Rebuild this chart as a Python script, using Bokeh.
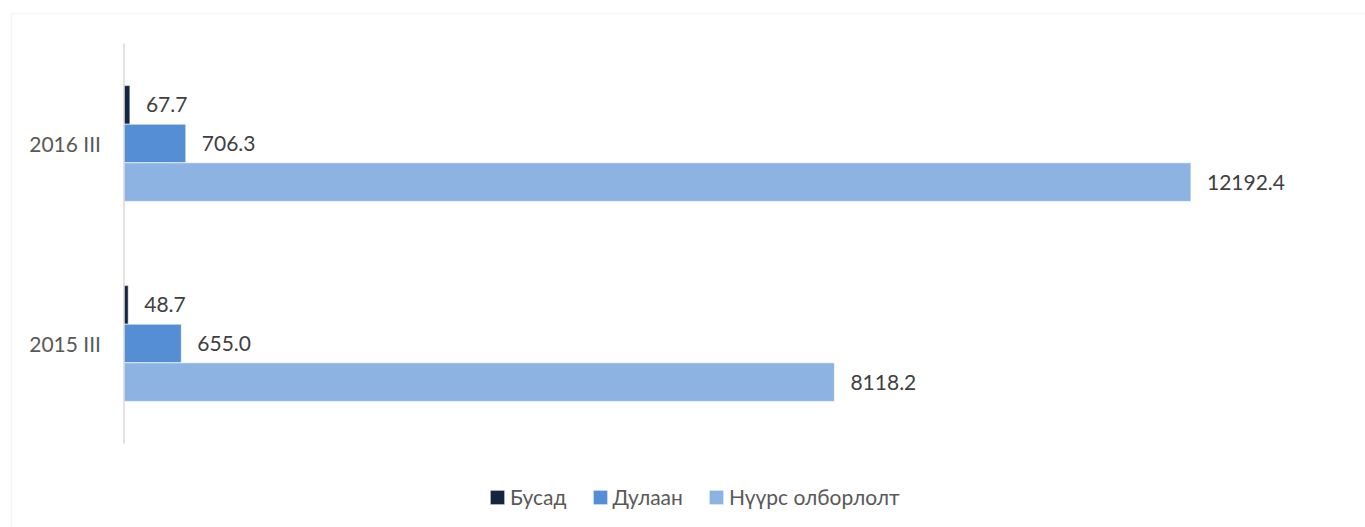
import numpy as np
from bokeh.plotting import figure
from bokeh.models import ColumnDataSource, Range1d, Legend, LegendItem, BoxAnnotation
from bokeh.core.properties import value
from bokeh.embed import file_html
from bokeh.resources import INLINE

categories = ["2015 III", "2016 III"]
busad = [48.7, 67.7]
dulaan = [655.0, 706.3]
nuurs = [8118.2, 12192.4]
series_names = ["Бусад", "Дулаан", "Нүүрс олборлолт"]
colors = ["#14263f", "#558ed5", "#8db3e2"]

FONT = "Lato"
FS = "21px"

centers = np.arange(len(categories)) + 0.5

p = figure(width=1365, height=527, output_backend="svg", toolbar_location=None,
           x_axis_location=None, y_axis_location=None,
           y_range=Range1d(-0.42, len(categories) + 0.215),
           x_range=Range1d(-1411, 14187),
           min_border_left=0, min_border_top=0, min_border_right=0, min_border_bottom=0)
p.outline_line_color = None
p.xgrid.visible = False
p.ygrid.visible = False

offsets = [0.193, 0.0, -0.193]
series = [busad, dulaan, nuurs]
renderers = []
for vals, off, c in zip(series, offsets, colors):
    src = ColumnDataSource(dict(y=centers + off, v=vals, t=["%.1f" % v for v in vals]))
    r = p.hbar(y="y", left=0, right="v", height=0.193, source=src,
               fill_color=c, line_color="#ffffff", line_width=0.6)
    renderers.append(r)
    p.text(x="v", y="y", text="t", source=src, x_offset=16,
           text_baseline="middle", text_align="left",
           text_font=value(FONT), text_font_size=FS, text_color="#404040")

# category axis: line over the category band and the category labels
p.segment(x0=[0], y0=[0], x1=[0], y1=[len(categories)], line_color="#d9d9d9", line_width=1.5)
cat_src = ColumnDataSource(dict(x=[0] * len(categories), y=centers, t=categories))
p.text(x="x", y="y", text="t", source=cat_src, x_offset=-23,
       text_baseline="middle", text_align="right",
       text_font=value(FONT), text_font_size=FS, text_color="#595959")

legend = Legend(items=[LegendItem(label=n, renderers=[r]) for n, r in zip(series_names, renderers)],
                orientation="horizontal", location=(488, 18))
legend.label_text_font = FONT
legend.label_text_font_size = FS
legend.label_text_color = "#595959"
legend.glyph_width = 18
legend.glyph_height = 18
legend.spacing = 24
legend.label_standoff = 4
legend.padding = 0
legend.margin = 0
legend.border_line_color = None
legend.background_fill_alpha = 0
p.add_layout(legend)

border = BoxAnnotation(left=11, right=3000, top=13, bottom=3000,
                       left_units="canvas", right_units="canvas",
                       top_units="canvas", bottom_units="canvas",
                       fill_color=None, fill_alpha=0, line_color="#d9d9d9", line_width=1.5)
p.add_layout(border)

open("out.html", "w").write(file_html(p, INLINE))
